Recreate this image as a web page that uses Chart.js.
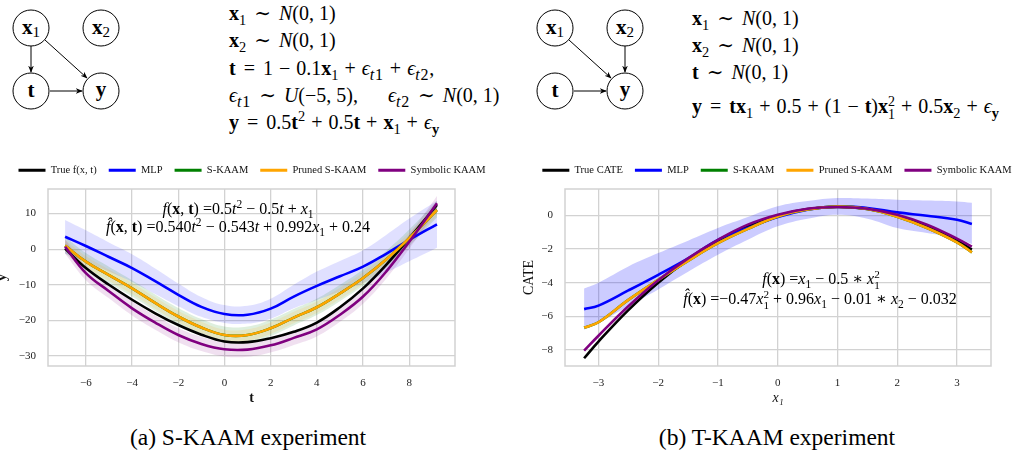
<!DOCTYPE html>
<html>
<head>
<meta charset="utf-8">
<script src="https://cdn.jsdelivr.net/npm/chart.js@4.4.1/dist/chart.umd.min.js"></script>
<style>
  html, body { margin: 0; padding: 0; background: #fff; }
  body { width: 1031px; height: 450px; position: relative; overflow: hidden;
         font-family: "Liberation Serif", "DejaVu Serif", serif; color: #000; }
  .abs { position: absolute; }
  .eq { position: absolute; font-size: 20px; line-height: 20px; white-space: nowrap; }
  .note { position: absolute; font-size: 16px; line-height: 16px; white-space: nowrap; transform: translateX(-50%); }
  .rel { margin: 0 0.4em; }
  .bin { margin: 0 0.3em; }
  .eq sub.w { font-size: 0.8em; letter-spacing: 0.05em; }
  sub, sup { font-size: 0.72em; line-height: 0; }
  .ss { display: inline-block; vertical-align: -0.45em; font-size: 0.7em; line-height: 0.95; }
  .ss span { display: block; }
  .cap { position: absolute; font-size: 23.5px; white-space: nowrap; transform: translateX(-50%); }
  canvas { position: absolute; }
</style>
</head>
<body>

<!-- causal graphs -->
<svg class="abs" style="left:0;top:0" width="140" height="125">
  <defs>
    <marker id="ah" viewBox="0 0 10 10" refX="9" refY="5" markerWidth="7" markerHeight="7" orient="auto">
      <path d="M0,1 L10,5 L0,9 L3,5 z" fill="#000"/>
    </marker>
  </defs>
  <g fill="none" stroke="#000" stroke-width="1">
    <circle cx="31" cy="28" r="18"/>
    <circle cx="101" cy="28" r="18"/>
    <circle cx="31" cy="91" r="18"/>
    <circle cx="101" cy="91" r="18"/>
    <line x1="31" y1="46" x2="31" y2="72" marker-end="url(#ah)"/>
    <line x1="45" y1="40" x2="87" y2="78" marker-end="url(#ah)"/>
    <line x1="50" y1="91" x2="82" y2="91" marker-end="url(#ah)"/>
  </g>
  <g font-family="Liberation Serif, serif" font-size="21" text-anchor="middle">
    <text x="31" y="34"><tspan font-weight="bold">x</tspan><tspan font-size="15" dy="3">1</tspan></text>
    <text x="101" y="34"><tspan font-weight="bold">x</tspan><tspan font-size="15" dy="3">2</tspan></text>
    <text x="31" y="97" font-weight="bold">t</text>
    <text x="101" y="96" font-weight="bold">y</text>
  </g>
</svg>

<svg class="abs" style="left:515px;top:0" width="140" height="125">
  <defs>
    <marker id="ah2" viewBox="0 0 10 10" refX="9" refY="5" markerWidth="7" markerHeight="7" orient="auto">
      <path d="M0,1 L10,5 L0,9 L3,5 z" fill="#000"/>
    </marker>
  </defs>
  <g fill="none" stroke="#000" stroke-width="1">
    <circle cx="40" cy="28" r="18"/>
    <circle cx="110" cy="28" r="18"/>
    <circle cx="40" cy="91" r="18"/>
    <circle cx="110" cy="91" r="18"/>
    <line x1="54" y1="40" x2="96" y2="78" marker-end="url(#ah2)"/>
    <line x1="110" y1="46" x2="110" y2="72" marker-end="url(#ah2)"/>
    <line x1="59" y1="91" x2="91" y2="91" marker-end="url(#ah2)"/>
  </g>
  <g font-family="Liberation Serif, serif" font-size="21" text-anchor="middle">
    <text x="40" y="34"><tspan font-weight="bold">x</tspan><tspan font-size="15" dy="3">1</tspan></text>
    <text x="110" y="34"><tspan font-weight="bold">x</tspan><tspan font-size="15" dy="3">2</tspan></text>
    <text x="40" y="97" font-weight="bold">t</text>
    <text x="110" y="96" font-weight="bold">y</text>
  </g>
</svg>

<!-- generating equations -->
<div class="eq" style="left:229px;top:3px"><b>x</b><sub>1</sub><span class="rel">∼</span><i>N</i>(0, 1)</div>
<div class="eq" style="left:229px;top:30px"><b>x</b><sub>2</sub><span class="rel">∼</span><i>N</i>(0, 1)</div>
<div class="eq" style="left:229px;top:58px"><b>t</b><span class="rel">=</span>1<span class="bin">−</span>0.1<b>x</b><sub>1</sub><span class="bin">+</span><i>ϵ</i><sub class="w"><i>t</i>1</sub><span class="bin">+</span><i>ϵ</i><sub class="w"><i>t</i>2</sub>,</div>
<div class="eq" style="left:229px;top:85px"><i>ϵ</i><sub class="w"><i>t</i>1</sub><span class="rel">∼</span><i>U</i>(−5, 5),&emsp;&ensp;<i>ϵ</i><sub class="w"><i>t</i>2</sub><span class="rel">∼</span><i>N</i>(0, 1)</div>
<div class="eq" style="left:229px;top:112px"><b>y</b><span class="rel">=</span>0.5<b>t</b><sup>2</sup><span class="bin">+</span>0.5<b>t</b><span class="bin">+</span><b>x</b><sub>1</sub><span class="bin">+</span><i>ϵ</i><sub><b>y</b></sub></div>

<div class="eq" style="left:692px;top:8px"><b>x</b><sub>1</sub><span class="rel">∼</span><i>N</i>(0, 1)</div>
<div class="eq" style="left:692px;top:35px"><b>x</b><sub>2</sub><span class="rel">∼</span><i>N</i>(0, 1)</div>
<div class="eq" style="left:692px;top:62px"><b>t</b><span class="rel">∼</span><i>N</i>(0, 1)</div>
<div class="eq" style="left:692px;top:95px"><b>y</b><span class="rel">=</span><b>tx</b><sub>1</sub><span class="bin">+</span>0.5<span class="bin">+</span>(1<span class="bin">−</span><b>t</b>)<b>x</b><span class="ss"><span>2</span><span>1</span></span><span class="bin">+</span>0.5<b>x</b><sub>2</sub><span class="bin">+</span><i>ϵ</i><sub><b>y</b></sub></div>

<canvas id="left" width="516" height="257" style="left:-6px;top:153px"></canvas>
<canvas id="right" width="512" height="257" style="left:521px;top:153px"></canvas>

<!-- fitted formulas written on the plots -->
<div class="note" style="left:238px;top:201px"><i>f</i>(<b>x</b>, <b>t</b>) =0.5<i>t</i><sup>2</sup> − 0.5<i>t</i> + <i>x</i><sub>1</sub></div>
<div class="note" style="left:238px;top:219px"><i>f̂</i>(<b>x</b>, <b>t</b>) =0.540<i>t</i><sup>2</sup> − 0.543<i>t</i> + 0.992<i>x</i><sub>1</sub> + 0.24</div>
<div class="note" style="left:821px;top:269px"><i>f</i>(<b>x</b>) =<i>x</i><sub>1</sub> − 0.5 ∗ <i>x</i><span class="ss"><span>2</span><span>1</span></span></div>
<div class="note" style="left:820px;top:289px"><i>f̂</i>(<b>x</b>) =−0.47<i>x</i><span class="ss"><span>2</span><span>1</span></span> + 0.96<i>x</i><sub>1</sub> − 0.01 ∗ <i>x</i><sub>2</sub> − 0.032</div>

<div class="cap" style="left:248px;top:424px">(a) S-KAAM experiment</div>
<div class="cap" style="left:777px;top:424px">(b) T-KAAM experiment</div>

<script>
// ---- (a) S-KAAM experiment: values ----
const tVals     = [-6.9, -6, -5, -4, -3, -2, -1, 0, 1, 2, 3, 4, 5, 6, 7, 8, 9.2];
const trueF     = [0.2, -5.3, -10.0, -14.2, -18.0, -21.3, -24.0, -25.9, -26.1, -25.0, -23.2, -20.6, -16.3, -11.0, -4.4, 3.1, 12.4];
const mlpA      = [3.5, 0.9, -2.2, -5.3, -9.0, -12.8, -16.2, -18.2, -18.4, -16.7, -13.3, -10.3, -7.6, -4.9, -1.3, 2.6, 7.0];
const mlpAHi    = [8.2, 5.3, 1.9, -1.4, -5.4, -9.6, -13.4, -15.7, -15.9, -13.9, -10.0, -6.3, -3.3, -0.3, 4.0, 8.6, 13.6];
const mlpALo    = [-1.2, -3.5, -6.3, -9.2, -12.6, -16.0, -19.0, -20.7, -20.9, -19.5, -16.6, -14.3, -11.9, -9.5, -6.6, -3.4, 0.4];
const skaamA    = [1.0, -3.5, -7.3, -11.0, -15.1, -18.9, -22.0, -24.1, -24.1, -22.2, -19.2, -16.3, -12.4, -8.1, -2.9, 3.1, 11.0];
const skaamAHi  = [3.4, -1.1, -4.9, -8.7, -12.7, -16.5, -19.6, -21.7, -21.7, -19.8, -16.8, -13.9, -10.0, -5.7, -0.5, 5.5, 13.5];
const skaamALo  = [-1.2, -5.7, -9.5, -13.3, -17.3, -21.1, -24.2, -26.3, -26.3, -24.4, -21.4, -18.5, -14.6, -10.3, -5.1, 0.9, 8.9];
const prunedA   = [1.0, -3.5, -7.3, -11.0, -15.1, -18.9, -22.0, -24.1, -24.1, -22.2, -19.2, -16.3, -12.4, -8.1, -2.9, 3.1, 11.0];
const prunedAHi = [2.6, -1.9, -5.7, -9.4, -13.5, -17.3, -20.4, -22.6, -22.5, -20.6, -17.6, -14.7, -10.8, -6.5, -1.3, 4.7, 12.6];
const prunedALo = [-0.6, -5.1, -8.9, -12.6, -16.7, -20.5, -23.6, -25.8, -25.7, -23.8, -20.8, -17.9, -14.0, -9.7, -4.5, 1.5, 9.4];
const symbA     = [0.7, -6.7, -11.8, -16.6, -20.6, -24.1, -26.6, -28.1, -28.2, -27.0, -24.9, -22.5, -18.4, -13.3, -6.3, 2.1, 12.9];
const symbAHi   = [2.7, -4.7, -9.8, -14.6, -18.6, -22.1, -24.6, -26.1, -26.2, -25.0, -22.9, -20.5, -16.4, -11.3, -4.3, 4.1, 14.9];
const symbALo   = [-1.3, -8.7, -13.8, -18.6, -22.6, -26.1, -28.6, -30.1, -30.2, -29.0, -26.9, -24.5, -20.4, -15.3, -8.3, 0.1, 10.9];

// ---- (b) T-KAAM experiment ----
const x1Vals    = [-3.24, -3, -2.5, -2, -1.5, -1, -0.5, 0, 0.5, 1, 1.5, 2, 2.5, 3, 3.25];
const trueCate  = [-8.49, -7.5, -5.63, -4.0, -2.63, -1.5, -0.63, 0, 0.38, 0.5, 0.38, 0, -0.63, -1.5, -2.03];
const mlpB      = [-5.57, -5.36, -4.46, -3.53, -2.55, -1.45, -0.75, -0.1, 0.34, 0.54, 0.44, 0.18, -0.02, -0.26, -0.51];
const mlpBHi    = [-4.35, -4.0, -3.03, -2.24, -1.5, -0.75, -0.1, 0.54, 0.85, 1.03, 1.0, 0.93, 0.88, 0.83, 0.75];
const mlpBLo    = [-6.8, -6.4, -5.4, -4.4, -3.35, -2.34, -1.45, -0.65, -0.2, 0.04, -0.2, -0.75, -1.05, -1.35, -1.7];
const skaamB    = [-6.67, -6.35, -5.02, -3.83, -2.7, -1.65, -0.8, -0.06, 0.35, 0.52, 0.38, -0.08, -0.75, -1.6, -2.2];
const prunedB   = [-6.67, -6.35, -5.02, -3.83, -2.7, -1.65, -0.8, -0.06, 0.35, 0.52, 0.38, -0.08, -0.75, -1.6, -2.2];
const symbB     = [-8.04, -7.15, -5.4, -3.85, -2.55, -1.45, -0.55, 0.04, 0.4, 0.5, 0.4, 0.04, -0.55, -1.38, -1.85];

const FONT = '"Liberation Serif", "DejaVu Serif", serif';
const GRID = '#d2d2d2';

function pts(xs, ys) { return xs.map((x, i) => ({ x: x, y: ys[i] })); }

// Chart.js paints higher `order` first, so later series end up on top (as in the original)
function line(label, xs, ys, color, order) {
  return { label: label, data: pts(xs, ys), borderColor: color, backgroundColor: color, order: order,
           borderWidth: 2.6, pointRadius: 0, fill: false, tension: 0.4 };
}
// upper edge fills down to the next dataset (the lower edge)
function band(xs, hi, lo, color, order) {
  return [
    { label: '_band', data: pts(xs, hi), borderColor: 'rgba(0,0,0,0)', borderWidth: 0, pointRadius: 0,
      fill: '+1', backgroundColor: color, tension: 0.4, order: order },
    { label: '_band', data: pts(xs, lo), borderColor: 'rgba(0,0,0,0)', borderWidth: 0, pointRadius: 0,
      fill: false, tension: 0.4, order: order }
  ];
}

// fixed legend height so the plot starts right under it
const legendFix = {
  id: 'legendFix',
  beforeInit(chart) {
    const fit = chart.legend.fit;
    chart.legend.fit = function () {
      fit.call(this);
      this.height = 36;
    };
  }
};
// light grey frame all round the plot area
const frame = {
  id: 'frame',
  beforeDatasetsDraw(chart) {
    const { ctx, chartArea: a } = chart;
    ctx.save();
    ctx.strokeStyle = GRID;
    ctx.lineWidth = 1.5;
    ctx.strokeRect(a.left, a.top, a.right - a.left, a.bottom - a.top);
    ctx.restore();
  }
};

const minus = v => String(v).replace('-', '\u2212');

function options(cfg) {
  return {
    responsive: false,
    animation: false,
    layout: { padding: 0 },
    plugins: {
      tooltip: { enabled: false },
      legend: {
        position: 'top',
        labels: {
          font: { family: FONT, size: 10.5 },
          color: '#111',
          boxWidth: 27,
          boxHeight: 3,
          padding: 12,
          sort: (a, b) => a.datasetIndex - b.datasetIndex,
          generateLabels(chart) {
            return Chart.defaults.plugins.legend.labels.generateLabels(chart)
              .filter(l => !l.text.startsWith('_'))
              .map(l => Object.assign(l, { lineWidth: 0, fillStyle: l.strokeStyle }));
          }
        }
      }
    },
    scales: {
      x: {
        type: 'linear', min: cfg.xMin, max: cfg.xMax,
        afterFit(s) { s.height = 44; },
        grid: { color: GRID, lineWidth: 1.3, drawTicks: false },
        border: { display: false },
        ticks: { stepSize: cfg.xStep, includeBounds: false, padding: 11, color: '#222',
                 font: { family: FONT, size: 11 }, callback: minus },
        title: { display: true, text: cfg.xTitle, color: '#111', padding: { top: 0, bottom: 3 },
                 font: Object.assign({ family: FONT, size: 14 }, cfg.xFont) }
      },
      y: {
        type: 'linear', min: cfg.yMin, max: cfg.yMax,
        afterFit(s) { s.width = cfg.yWidth; },
        grid: { color: GRID, lineWidth: 1.3, drawTicks: false },
        border: { display: false },
        ticks: { stepSize: cfg.yStep, includeBounds: false, padding: 12, color: '#222',
                 font: { family: FONT, size: 11 }, callback: minus },
        title: { display: true, text: cfg.yTitle, color: '#111', padding: { top: 0, bottom: 0 },
                 font: Object.assign({ family: FONT, size: 14 }, cfg.yFont) }
      },
      // empty right-hand axis: only reserves the margin right of the plot
      yPad: {
        position: 'right', min: 0, max: 1,
        afterFit(s) { s.width = cfg.padRight; },
        grid: { display: false }, border: { display: false }, ticks: { display: false }
      }
    }
  };
}

new Chart(document.getElementById('left'), {
  type: 'line',
  data: {
    datasets: [
      line('True f(x, t)', tVals, trueF, '#000000', 5),
      line('MLP', tVals, mlpA, '#0000ff', 4),
      line('S-KAAM', tVals, skaamA, '#008000', 3),
      line('Pruned S-KAAM', tVals, prunedA, '#ffa500', 2),
      line('Symbolic KAAM', tVals, symbA, '#800080', 1),
      ...band(tVals, mlpAHi, mlpALo, 'rgba(0,0,255,0.12)', 14),
      ...band(tVals, skaamAHi, skaamALo, 'rgba(0,128,0,0.13)', 13),
      ...band(tVals, prunedAHi, prunedALo, 'rgba(255,165,0,0.13)', 12),
      ...band(tVals, symbAHi, symbALo, 'rgba(128,0,128,0.12)', 11)
    ]
  },
  options: options({ padRight: 55, xMin: -7.64, xMax: 9.98, xStep: 2, yMin: -32.8, yMax: 16.9, yStep: 10,
                     yWidth: 54, xTitle: 't', yTitle: 'y',
                     xFont: { weight: 'bold' }, yFont: { weight: 'bold' } }),
  plugins: [legendFix, frame]
});

new Chart(document.getElementById('right'), {
  type: 'line',
  data: {
    datasets: [
      line('True CATE', x1Vals, trueCate, '#000000', 5),
      line('MLP', x1Vals, mlpB, '#0000ff', 4),
      line('S-KAAM', x1Vals, skaamB, '#008000', 3),
      line('Pruned S-KAAM', x1Vals, prunedB, '#ffa500', 2),
      line('Symbolic KAAM', x1Vals, symbB, '#800080', 1),
      ...band(x1Vals, mlpBHi, mlpBLo, 'rgba(0,0,255,0.2)', 14)
    ]
  },
  options: options({ padRight: 42, xMin: -3.56, xMax: 3.57, xStep: 1, yMin: -8.95, yMax: 1.57, yStep: 2,
                     yWidth: 44, xTitle: 'x\u2081', yTitle: 'CATE',
                     xFont: { style: 'italic' }, yFont: {} }),
  plugins: [legendFix, frame]
});
</script>
</body>
</html>
